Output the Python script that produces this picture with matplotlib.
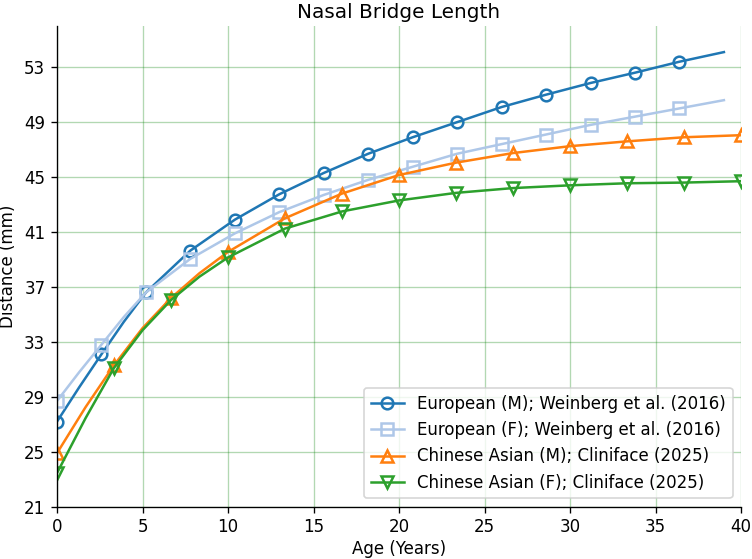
import matplotlib
matplotlib.use('Agg')
import matplotlib.pyplot as plt

# European (Weinberg et al. 2016)
age_eu = [0, 1.3, 2.6, 3.9, 5.2, 7.8, 10.4, 13.0, 15.6, 18.2, 20.8, 23.4,
          26.0, 28.6, 31.2, 33.8, 36.4, 39.0]
eu_male = [27.2, 29.7, 32.1, 34.45, 36.6, 39.65, 41.9, 43.75, 45.3, 46.7, 47.9,
           49.0, 50.1, 51.0, 51.85, 52.6, 53.4, 54.1]
eu_female = [28.7, 30.8, 32.8, 34.8, 36.6, 39.05, 40.9, 42.45, 43.7, 44.8, 45.75,
             46.7, 47.4, 48.1, 48.8, 49.4, 50.0, 50.6]
eu_marker_ages = [0, 2.6, 5.2, 7.8, 10.4, 13.0, 15.6, 18.2, 20.8, 23.4, 26.0,
                  28.6, 31.2, 33.8, 36.4]

# Chinese Asian (Cliniface 2025)
age_cn = [0, 1.67, 3.33, 5.0, 6.67, 8.33, 10.0, 13.33, 16.67, 20.0, 23.33,
          26.67, 30.0, 33.33, 36.67, 40.0]
cn_male = [24.9, 28.25, 31.3, 34.0, 36.2, 38.0, 39.55, 42.0, 43.8, 45.15, 46.05,
           46.75, 47.25, 47.6, 47.9, 48.05]
cn_female = [23.45, 27.45, 31.1, 33.85, 36.05, 37.75, 39.15, 41.25, 42.5, 43.3,
             43.85, 44.2, 44.4, 44.55, 44.6, 44.7]
cn_marker_ages = [0, 3.33, 6.67, 10.0, 13.33, 16.67, 20.0, 23.33, 26.67, 30.0,
                  33.33, 36.67, 40.0]

series = [
    (age_eu, eu_male, eu_marker_ages, 'European (M); Weinberg et al. (2016)', '#1f77b4', 'o'),
    (age_eu, eu_female, eu_marker_ages, 'European (F); Weinberg et al. (2016)', '#aec7e8', 's'),
    (age_cn, cn_male, cn_marker_ages, 'Chinese Asian (M); Cliniface (2025)', '#ff7f0e', '^'),
    (age_cn, cn_female, cn_marker_ages, 'Chinese Asian (F); Cliniface (2025)', '#2ca02c', 'v'),
]

fig, ax = plt.subplots(figsize=(752 / 120, 559 / 120), dpi=120)
fig.subplots_adjust(left=0.0758, right=0.9854, top=0.9535, bottom=0.0935)

for x, y, mk_ages, label, color, marker in series:
    idx = [x.index(a) for a in mk_ages]
    ax.plot(x, y, color=color, marker=marker, markevery=idx, markersize=7,
            markerfacecolor='none', markeredgewidth=1.5, linewidth=1.5, label=label)

ax.set_xlim(0, 40)
ax.set_ylim(21, 56)
ax.set_xticks(range(0, 41, 5))
ax.set_yticks(range(21, 54, 4))
ax.grid(True, color='green', alpha=0.3, linewidth=0.8)
ax.set_axisbelow(True)
ax.spines['top'].set_visible(False)
ax.spines['right'].set_visible(False)

ax.set_title('Nasal Bridge Length', pad=4.5)
ax.set_xlabel('Age (Years)', labelpad=2)
ax.set_ylabel('Distance (mm)')
ax.legend(loc='lower right')

plt.savefig('out.png', dpi=120)
